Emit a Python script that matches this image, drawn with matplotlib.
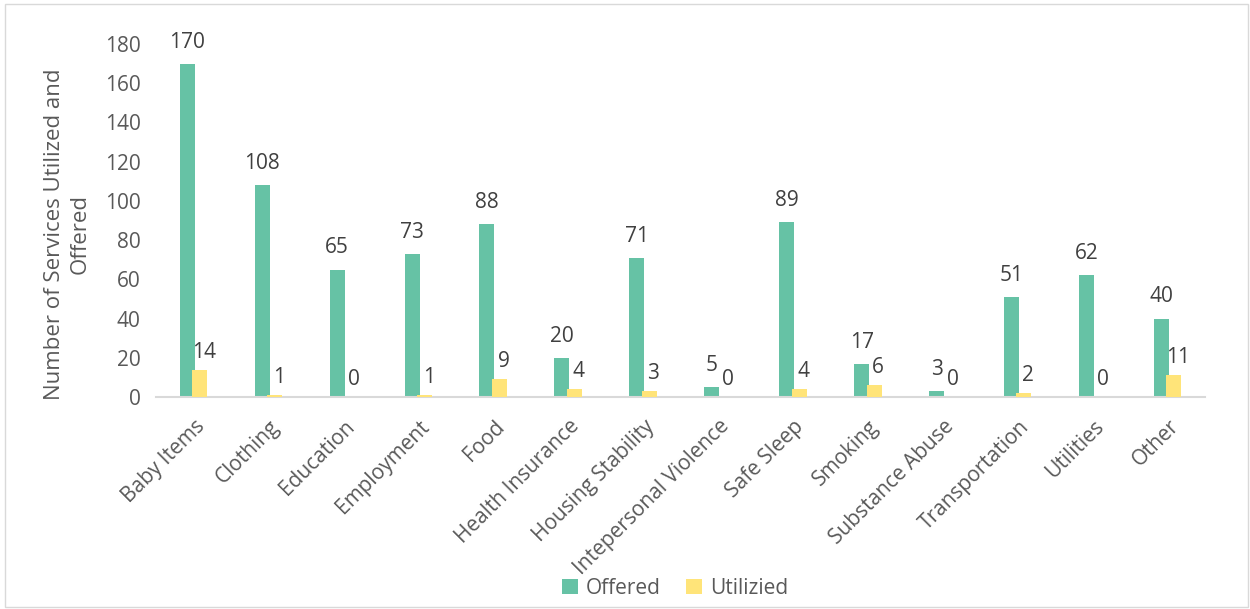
import numpy as np
import matplotlib.pyplot as plt
import matplotlib.transforms as mtransforms
from matplotlib.patches import Rectangle

plt.rcParams['font.family'] = ['Open Sans', 'DejaVu Sans']

# Service categories and counts
categories = ['Baby Items', 'Clothing', 'Education', 'Employment', 'Food',
              'Health Insurance', 'Housing Stability', 'Intepersonal Violence',
              'Safe Sleep', 'Smoking', 'Substance Abuse', 'Transportation',
              'Utilities', 'Other']
offered = [170, 108, 65, 73, 88, 20, 71, 5, 89, 17, 3, 51, 62, 40]
utilized = [14, 1, 0, 1, 9, 4, 3, 0, 4, 6, 0, 2, 0, 11]

green = '#66C2A5'
yellow = '#FFE479'
text_col = '#595959'
label_col = '#404040'

fig = plt.figure(figsize=(12.5, 6.09), dpi=100)
ax = fig.add_axes([156 / 1250, 1 - 397 / 609, (1205 - 156) / 1250, (397 - 44) / 609])

# thin border round the whole chart area
fig.patches.append(Rectangle((0.004, 0.004), 0.994, 0.99, transform=fig.transFigure,
                             fill=False, edgecolor='#D9D9D9', linewidth=1))

x = np.arange(len(categories))
w = 0.2
off = 0.083
b1 = ax.bar(x - off, offered, w, color=green, label='Offered', zorder=2)
b2 = ax.bar(x + off, utilized, w, color=yellow, label='Utilizied', zorder=3)

for xi, v in zip(x, offered):
    ax.annotate(str(v), (xi - off, v), xytext=(0, 8), textcoords='offset points',
                ha='center', va='bottom', fontsize=15, color=label_col)
for xi, v in zip(x, utilized):
    ax.annotate(str(v), (xi + off, v), xytext=(3, 5), textcoords='offset points',
                ha='center', va='bottom', fontsize=15, color=label_col)

ax.set_xlim(-0.5, len(categories) - 0.5)
ax.set_ylim(0, 180)
ax.set_yticks(np.arange(0, 181, 20))
ax.set_xticks(x)
ax.set_xticklabels(categories, rotation=45, ha='right', va='center',
                   rotation_mode='anchor')
ax.tick_params(axis='both', length=0, labelsize=15, colors=text_col)
ax.tick_params(axis='x', pad=19)
ax.tick_params(axis='y', pad=11)

# nudge the slanted category labels a little to the right
shift = mtransforms.ScaledTranslation(0.08, 0, fig.dpi_scale_trans)
for lbl in ax.get_xticklabels():
    lbl.set_transform(lbl.get_transform() + shift)

for side in ['top', 'right', 'left']:
    ax.spines[side].set_visible(False)
ax.spines['bottom'].set_color('#D9D9D9')
ax.spines['bottom'].set_linewidth(1.5)

fig.text(0.054, 1 - 234 / 609, 'Number of Services Utilized and\nOffered', rotation=90,
         ha='center', va='center', fontsize=16, color=text_col, linespacing=1.25)

fig.legend(handles=[b1, b2], loc='center', bbox_to_anchor=(0.54, 1 - 588 / 609),
           ncol=2, frameon=False, fontsize=15, labelcolor=text_col,
           handlelength=0.75, handleheight=0.75, handletextpad=0.4, columnspacing=1.2)

fig.savefig('out.png', dpi=100)
